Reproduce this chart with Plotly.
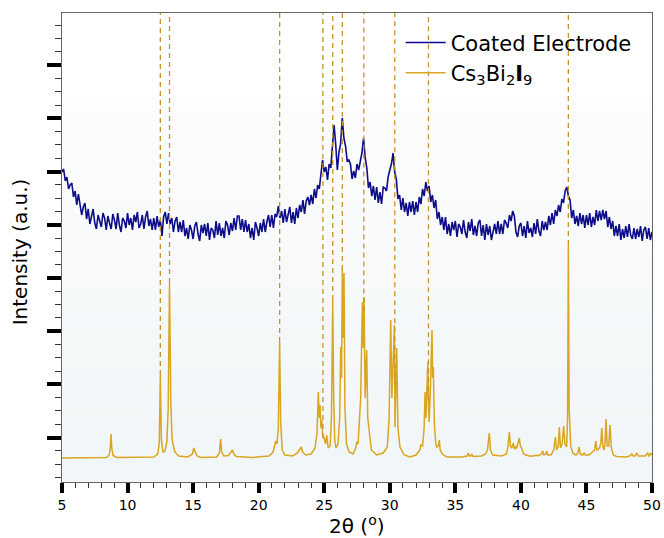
import numpy as np
import plotly.graph_objects as go

# ---------------- data ----------------
# Coated electrode (measured), sampled every 0.125 deg from 5 to 50
blue_x = np.linspace(5, 50, 361)
blue_y = [
    286, 289, 277, 281, 269, 273, 275, 261,
    267, 253, 264, 251, 243, 251, 255, 239,
    249, 234, 243, 249, 235, 229, 243, 238,
    231, 245, 240, 228, 242, 235, 229, 244,
    238, 229, 245, 233, 226, 240, 237, 230,
    245, 233, 240, 228, 243, 236, 246, 230,
    234, 243, 229, 241, 247, 232, 239, 228,
    240, 228, 242, 231, 238, 222, 241, 246,
    234, 245, 234, 240, 226, 237, 241, 226,
    236, 226, 238, 222, 230, 219, 233, 228,
    219, 232, 236, 224, 217, 233, 225, 234,
    222, 235, 218, 230, 228, 220, 237, 223,
    235, 222, 230, 220, 237, 233, 223, 235,
    227, 240, 228, 242, 242, 228, 239, 226,
    238, 226, 234, 220, 230, 218, 236, 230,
    222, 235, 226, 239, 226, 236, 243, 231,
    243, 230, 244, 241, 252, 240, 247, 235,
    249, 236, 243, 251, 235, 246, 234, 250,
    240, 253, 246, 258, 244, 257, 261, 253,
    263, 254, 269, 260, 273, 269, 284, 298,
    286, 291, 278, 294, 290, 316, 333, 314,
    288, 306, 314, 340, 320, 312, 297, 298,
    294, 279, 287, 280, 294, 288, 298, 305,
    320, 300, 290, 270, 276, 262, 272, 258,
    271, 255, 266, 254, 271, 270, 267, 281,
    288, 294, 305, 286, 279, 259, 263, 248,
    260, 246, 255, 242, 256, 246, 257, 243,
    256, 246, 261, 254, 269, 262, 276, 267,
    272, 256, 263, 250, 258, 239, 246, 233,
    241, 228, 241, 224, 234, 222, 236, 228,
    237, 221, 234, 231, 224, 238, 226, 220,
    236, 227, 239, 223, 232, 222, 235, 238,
    222, 233, 218, 234, 223, 232, 218, 228,
    234, 224, 237, 224, 234, 224, 238, 235,
    230, 243, 237, 247, 242, 226, 221, 232,
    235, 222, 232, 220, 237, 225, 230, 221,
    235, 224, 239, 227, 222, 237, 228, 236,
    228, 242, 233, 245, 234, 248, 242, 253,
    246, 259, 255, 267, 271, 262, 258, 240,
    248, 234, 242, 232, 245, 234, 243, 230,
    243, 233, 245, 231, 241, 233, 248, 237,
    247, 238, 248, 239, 247, 231, 241, 229,
    237, 222, 232, 222, 234, 218, 229, 220,
    232, 221, 234, 223, 219, 230, 219, 229,
    221, 232, 217, 228, 231, 219, 230, 218,
    226,
]

# Cs3Bi2I9 reference pattern
ref_x = [
    5.0, 8.4, 8.6, 8.68, 8.74, 8.8, 8.9, 9.2,
    12.0, 12.3, 12.42, 12.5, 12.58, 12.7, 12.85, 13.0, 13.1, 13.2, 13.3, 13.4, 13.6, 13.9,
    14.6, 14.95, 15.05, 15.15, 15.3, 15.6,
    16.8, 17.0, 17.1, 17.18, 17.35, 17.7, 17.85, 18.0, 18.1, 18.3,
    19.5, 20.8, 21.1, 21.25, 21.3, 21.4, 21.5, 21.6, 21.68, 21.8, 22.0,
    22.6, 22.95, 23.1, 23.25, 23.35, 23.6,
    24.0, 24.3, 24.45, 24.55, 24.62, 24.68, 24.75, 24.81, 24.9, 24.98, 25.1, 25.19, 25.3,
    25.45, 25.55, 25.65, 25.72, 25.8, 25.9,
    26.05, 26.18, 26.26, 26.32, 26.38, 26.45, 26.51, 26.58, 26.7, 26.9,
    27.2, 27.4, 27.48, 27.58, 27.68, 27.78, 27.86, 27.91, 27.97, 28.04, 28.12, 28.24, 28.32, 28.49, 28.6,
    29.0, 29.5, 29.81, 29.95, 30.07, 30.16, 30.24, 30.35, 30.4, 30.46, 30.53, 30.62, 30.78,
    31.1, 31.54, 32.0, 32.3, 32.36, 32.5, 32.62, 32.69, 32.76, 32.84, 32.9, 32.96, 33.0,
    33.1, 33.16, 33.22, 33.27, 33.32, 33.4, 33.5, 33.58, 33.7, 33.78, 33.85, 34.0, 34.34,
    35.5, 35.9, 35.99, 36.08, 36.18, 36.25, 36.35,
    37.0, 37.3, 37.45, 37.59, 37.68, 37.85,
    38.5, 38.9, 39.0, 39.12, 39.2, 39.3, 39.42, 39.5, 39.6, 39.68, 39.78, 39.88, 39.96, 40.06, 40.2,
    40.6, 41.0, 41.15, 41.3, 41.58, 41.66, 41.75, 41.9, 41.97, 42.05,
    42.3, 42.5, 42.63, 42.72, 42.85, 42.93, 43.02, 43.15, 43.26, 43.36, 43.49, 43.56, 43.62, 43.68,
    43.8, 43.95, 44.2, 44.35, 44.44, 44.52, 44.7, 44.82, 44.9,
    45.2, 45.5, 45.62, 45.71, 45.8, 46.0, 46.1, 46.17, 46.25, 46.34, 46.42, 46.49, 46.58, 46.7,
    46.8, 46.9, 47.05, 47.3,
    48.0, 48.3, 48.46, 48.55, 48.7, 48.84, 48.95, 49.3, 49.5, 49.6, 49.68, 49.76, 49.85, 49.92, 50.0,
]
ref_y = [
    0, 0.5, 3, 10, 24, 9, 2.5, 0.5,
    1, 4, 15, 83, 18, 6, 7, 16, 50, 175, 55, 18, 6, 2,
    1, 4, 10, 6, 2, 0.5,
    1, 5, 19, 6, 2, 2.5, 5, 8, 4, 1.5,
    0.5, 2, 6, 14, 17, 14, 30, 116, 35, 8, 3,
    2, 5, 8, 11, 6, 3,
    4, 10, 25, 66, 40, 53, 30, 38, 20, 21, 14, 23, 10,
    12, 40, 158, 60, 18, 10,
    14, 40, 111, 80, 188, 120, 185, 50, 14, 6,
    4, 10, 16, 14, 38, 60, 120, 156, 110, 161, 60, 108, 40, 21, 8,
    3, 5, 11, 40, 138, 60, 90, 133, 31, 80, 110, 30, 11,
    3, 1, 3, 8, 13, 12, 30, 66, 40, 70, 96, 50, 36,
    70, 100, 128, 80, 91, 35, 15, 11, 12, 18, 8, 4, 1,
    1, 2, 5, 2, 2, 4, 1.5,
    2, 4, 8, 25, 8, 3,
    2, 4, 10, 26, 12, 10, 15, 9, 11, 10, 14, 20, 12, 10, 4,
    2, 2, 3, 2, 4, 7, 3, 4, 7, 3,
    3, 8, 21, 8, 12, 31, 10, 14, 32, 14, 11, 40, 213, 50,
    12, 5, 3, 5, 11, 4, 3, 5, 3,
    3, 6, 8, 17, 8, 10, 15, 30, 12, 8, 15, 39, 12, 12,
    33, 10, 3, 1.5,
    1, 2, 4, 2, 2, 5, 2, 2, 2, 4, 5, 2, 3, 5, 3,
]

# Marked reflections (dashed guide lines)
mark_x = [12.5, 13.2, 21.6, 24.9, 25.65, 26.38, 28.02, 30.38, 32.95, 43.62]

x_ticks = [5, 10, 15, 20, 25, 30, 35, 40, 45, 50]

# ---------------- figure ----------------
Y_MIN, Y_MAX = -24, 445
FONT = "DejaVu Sans"
BLUE = "#0d0d8a"
GOLD = "#DAA520"
DASH = "#c8922a"

fig = go.Figure()

# gradient background band (lower part of plot area)
top_c = np.array([253, 253, 253])
bot_c = np.array([241, 246, 248])
n_band = 30
y0p, y1p = 0.0, 0.822
for i in range(n_band):
    f = i / (n_band - 1)
    c = bot_c + (top_c - bot_c) * f
    fig.add_shape(type="rect", xref="x domain", yref="y domain",
                  x0=0, x1=1,
                  y0=y0p + (y1p - y0p) * i / n_band,
                  y1=y0p + (y1p - y0p) * (i + 1) / n_band,
                  fillcolor="rgb(%d,%d,%d)" % tuple(c.astype(int)),
                  line=dict(width=0), layer="below")

fig.add_trace(go.Scatter(x=ref_x, y=ref_y, mode="lines",
                         line=dict(color=GOLD, width=1.5),
                         name="Cs<sub>3</sub>Bi<sub>2</sub><b>I</b><sub>9</sub>"))
fig.add_trace(go.Scatter(x=blue_x, y=blue_y, mode="lines",
                         line=dict(color=BLUE, width=1.6),
                         name="Coated Electrode"))

mark_low = np.interp(mark_x, ref_x, ref_y)
for mx, ml in zip(mark_x, mark_low):
    fig.add_trace(go.Scatter(x=[mx, mx], y=[ml, Y_MAX], mode="lines",
                             line=dict(color=DASH, width=1.3, dash="5px,4px"),
                             showlegend=False, hoverinfo="skip"))

fig.update_layout(
    width=664, height=538,
    margin=dict(l=62, r=12, t=13, b=56, autoexpand=False),
    paper_bgcolor="white", plot_bgcolor="white",
    font=dict(family=FONT, size=14, color="black"),
    showlegend=True,
    legend=dict(x=0.574, y=0.98, xanchor="left", yanchor="top",
                bgcolor="rgba(0,0,0,0)", font=dict(size=21, family=FONT),
                traceorder="reversed", tracegroupgap=0, itemwidth=40),
    annotations=[
        dict(text="2θ (<sup>o</sup>)", xref="paper", yref="paper",
             x=0.5, y=-0.092, xanchor="center", yanchor="middle",
             showarrow=False, font=dict(size=20, family=FONT)),
        dict(text="Intensity (a.u.)", xref="paper", yref="paper",
             x=-0.071, y=0.49, xanchor="center", yanchor="middle",
             textangle=-90, showarrow=False, font=dict(size=20, family=FONT)),
    ],
)

fig.update_xaxes(
    range=[5, 50], tickmode="array", tickvals=x_ticks,
    ticktext=[str(v) for v in x_ticks],
    ticks="outside", ticklen=10, tickwidth=4, tickcolor="black",
    tickfont=dict(size=14, family=FONT),
    showline=True, linecolor="#666666", linewidth=1, mirror=True,
    showgrid=False, zeroline=False, automargin=False,
    minor=dict(dtick=1, tick0=5, ticks="outside", ticklen=5, tickwidth=1,
               tickcolor="#333333", showgrid=False),
)
fig.update_yaxes(
    range=[Y_MIN, Y_MAX], tick0=20.5, dtick=53.2,
    showticklabels=False,
    ticks="outside", ticklen=14, tickwidth=4, tickcolor="black",
    showline=True, linecolor="#666666", linewidth=1, mirror=True,
    showgrid=False, zeroline=False, automargin=False,
    minor=dict(dtick=13.3, tick0=20.5, ticks="outside", ticklen=6, tickwidth=1,
               tickcolor="#333333", showgrid=False),
)

fig.write_html("out.html", config={"displayModeBar": False},
               post_script="document.body.style.margin='0';")
